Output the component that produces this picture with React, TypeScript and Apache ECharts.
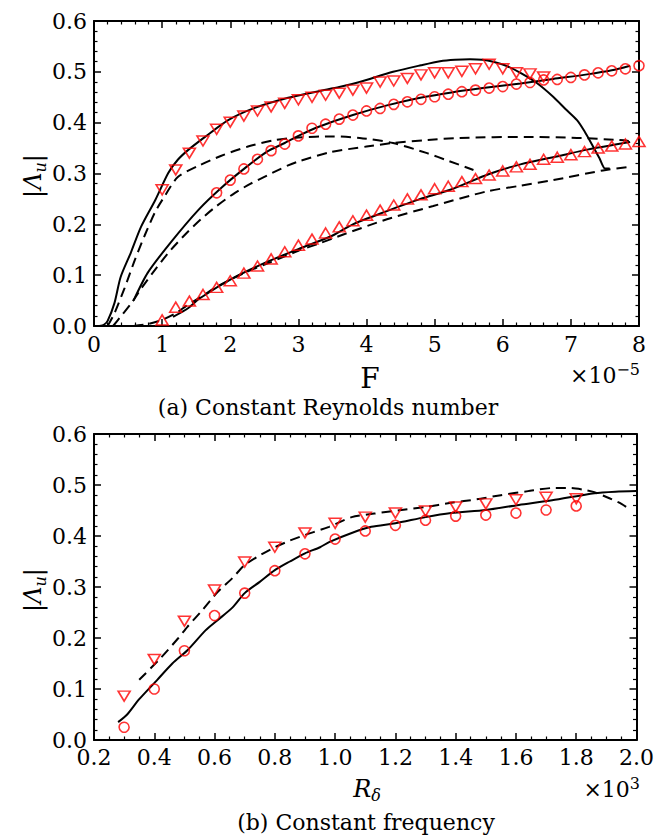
import React, { useEffect, useRef } from "react";
import * as echarts from "echarts";

// ---------- (a) Constant Reynolds number : x = F (×10^-5), y = |Λu| ----------
const A_SOLID_1 = [[0.08,0],[0.15,0.003],[0.2,0.01],[0.3,0.045],[0.39,0.096],[0.54,0.144],[0.69,0.195],[0.9,0.248],[1.09,0.301],[1.23,0.327],[1.38,0.346],[1.63,0.372],[1.97,0.405],[2.36,0.429],[2.85,0.449],[3.3,0.462],[3.6,0.47],[3.9,0.48],[4.39,0.5],[4.8,0.513],[5.08,0.521],[5.3,0.524],[5.52,0.525],[5.7,0.524],[5.86,0.52],[6.05,0.512],[6.26,0.498],[6.5,0.478],[6.74,0.451],[6.92,0.427],[7.09,0.405],[7.2,0.383],[7.33,0.352],[7.42,0.33],[7.5,0.31],[7.57,0.31]];
const A_DASH_1 = [[0.2,0],[0.3,0.025],[0.45,0.075],[0.6,0.13],[0.75,0.18],[0.9,0.225],[1.04,0.256],[1.23,0.293],[1.53,0.315],[1.87,0.335],[2.26,0.353],[2.66,0.366],[3.0,0.371],[3.5,0.373],[3.9,0.37],[4.39,0.36],[4.89,0.34],[5.2,0.325],[5.57,0.307]];
const A_SOLID_2 = [[0.58,0.05],[0.79,0.105],[1.13,0.165],[1.53,0.228],[1.87,0.272],[2.22,0.311],[2.54,0.343],[2.8,0.36],[3.03,0.376],[3.32,0.393],[3.8,0.415],[4.3,0.434],[4.79,0.449],[5.27,0.46],[5.77,0.469],[6.26,0.477],[6.74,0.486],[7.24,0.495],[7.6,0.503],[7.87,0.512]];
const A_DASH_2 = [[0.28,0],[0.4,0.02],[0.55,0.045],[0.7,0.075],[0.92,0.115],[1.13,0.15],[1.36,0.183],[1.57,0.21],[1.78,0.234],[2.07,0.262],[2.3,0.28],[2.54,0.296],[2.85,0.316],[3.03,0.325],[3.47,0.342],[4.0,0.353],[4.39,0.36],[4.9,0.366],[5.37,0.37],[6.36,0.372],[7.09,0.37],[7.68,0.366],[7.85,0.364]];
const A_SOLID_3 = [[1.16,0.018],[1.38,0.035],[1.56,0.055],[2.04,0.094],[2.54,0.126],[3.03,0.153],[3.47,0.176],[3.8,0.2],[4.3,0.226],[4.79,0.25],[5.23,0.268],[5.8,0.299],[6.26,0.318],[6.84,0.335],[7.24,0.347],[7.87,0.362]];
const A_DASH_3 = [[0.58,0],[0.8,0.004],[1.0,0.012],[1.2,0.025],[1.36,0.04],[1.6,0.06],[1.8,0.077],[2.2,0.104],[2.6,0.126],[3.0,0.148],[3.32,0.163],[3.66,0.18],[4.3,0.21],[4.98,0.236],[5.77,0.265],[6.26,0.276],[6.74,0.287],[7.47,0.306],[7.85,0.313]];

const A_F_DOWN = [1.0,1.2,1.4,1.6,1.8,2.0,2.2,2.4,2.6,2.8,3.0,3.2,3.4,3.6,3.8,4.0,4.2,4.4,4.6,4.8,5.0,5.2,5.4,5.6,5.8,6.0,6.2,6.4,6.6];
const A_V_DOWN = [0.268,0.307,0.34,0.364,0.387,0.401,0.413,0.423,0.431,0.438,0.445,0.45,0.454,0.458,0.464,0.468,0.48,0.482,0.487,0.494,0.498,0.498,0.501,0.506,0.515,0.506,0.498,0.496,0.49];
const A_F_CIRC = [1.8,2.0,2.2,2.4,2.6,2.8,3.0,3.2,3.4,3.6,3.8,4.0,4.2,4.4,4.6,4.8,5.0,5.2,5.4,5.6,5.8,6.0,6.2,6.4,6.6,6.8,7.0,7.2,7.4,7.6,7.8,8.0];
const A_V_CIRC = [0.262,0.287,0.309,0.328,0.345,0.358,0.374,0.389,0.397,0.407,0.415,0.423,0.428,0.436,0.441,0.446,0.451,0.456,0.461,0.464,0.468,0.471,0.476,0.479,0.484,0.485,0.489,0.494,0.498,0.502,0.506,0.512];
const A_F_UP = [1.0,1.2,1.4,1.6,1.8,2.0,2.2,2.4,2.6,2.8,3.0,3.2,3.4,3.6,3.8,4.0,4.2,4.4,4.6,4.8,5.0,5.2,5.4,5.6,5.8,6.0,6.2,6.4,6.6,6.8,7.0,7.2,7.4,7.6,7.8,8.0];
const A_V_UP = [0.012,0.037,0.049,0.062,0.076,0.089,0.104,0.118,0.132,0.146,0.159,0.171,0.183,0.195,0.207,0.218,0.228,0.238,0.25,0.258,0.27,0.275,0.284,0.29,0.297,0.305,0.313,0.318,0.328,0.332,0.337,0.343,0.35,0.354,0.358,0.363];

// ---------- (b) Constant frequency : x = Rδ (×10^3), y = |Λu| ----------
const B_SOLID = [[0.28,0.035],[0.31,0.05],[0.35,0.08],[0.41,0.118],[0.46,0.15],[0.51,0.176],[0.57,0.215],[0.61,0.235],[0.66,0.26],[0.7,0.288],[0.75,0.31],[0.8,0.333],[0.85,0.35],[0.9,0.366],[0.95,0.378],[0.98,0.388],[1.055,0.406],[1.12,0.418],[1.2,0.425],[1.3,0.437],[1.385,0.445],[1.5,0.451],[1.61,0.461],[1.72,0.47],[1.86,0.484],[1.93,0.487],[2.0,0.488]];
const B_DASH = [[0.35,0.118],[0.42,0.16],[0.48,0.2],[0.51,0.222],[0.56,0.255],[0.61,0.29],[0.66,0.318],[0.7,0.343],[0.75,0.362],[0.8,0.378],[0.85,0.391],[0.9,0.402],[0.98,0.418],[1.055,0.437],[1.13,0.444],[1.22,0.451],[1.3,0.457],[1.385,0.465],[1.47,0.472],[1.55,0.48],[1.64,0.488],[1.72,0.494],[1.78,0.494],[1.83,0.49],[1.86,0.486],[1.91,0.474],[1.95,0.463],[1.98,0.451]];
const B_R = [0.3,0.4,0.5,0.6,0.7,0.8,0.9,1.0,1.1,1.2,1.3,1.4,1.5,1.6,1.7,1.8];
const B_V_DOWN = [0.086,0.158,0.233,0.294,0.349,0.378,0.406,0.425,0.437,0.445,0.449,0.457,0.463,0.471,0.476,0.473];
const B_V_CIRC = [0.025,0.1,0.175,0.244,0.288,0.332,0.365,0.394,0.41,0.421,0.431,0.439,0.441,0.445,0.451,0.459];

const TOP_X_TICKS = ["0","1","2","3","4","5","6","7","8"];

const SERIF = "'DejaVu Serif', 'Liberation Serif', serif";
const LABEL_FONT = "DejaVu Serif";
const RED = "#ff0000";

const zip = (xs: number[], ys: number[]) => xs.map((x, i) => [x, ys[i]]);

function baseAxis(extra: any) {
  return {
    type: "value",
    axisLine: { show: true, onZero: false, lineStyle: { color: "#000", width: 2 } },
    axisTick: { show: true, inside: true, length: 7, lineStyle: { color: "#000", width: 1.5 } },
    minorTick: { show: true, splitNumber: 5, length: 3.5, lineStyle: { color: "#000", width: 1.2 } },
    splitLine: { show: false },
    minorSplitLine: { show: false },
    ...extra,
  };
}

const labelStyle = { fontFamily: LABEL_FONT, fontSize: 22, color: "#000" };

function lineSeries(data: number[][], dashed: boolean, idx: number) {
  return {
    type: "line",
    data,
    xAxisIndex: idx,
    yAxisIndex: idx,
    showSymbol: false,
    symbol: "none",
    smooth: 0.25,
    lineStyle: { color: "#000", width: 2, type: dashed ? [10, 6] : "solid" },
    z: 2,
  };
}

function markerSeries(data: number[][], kind: "down" | "up" | "circle", idx: number, size: number) {
  return {
    type: "scatter",
    data,
    xAxisIndex: idx,
    yAxisIndex: idx,
    symbol: kind === "circle" ? "circle" : "triangle",
    symbolRotate: kind === "down" ? 180 : 0,
    symbolSize: kind === "circle" ? size : [size + 1, size - 1],
    itemStyle: { color: "rgba(0,0,0,0)", borderColor: RED, borderWidth: 1.6 },
    z: 3,
  };
}

function yTitle(y: number) {
  return {
    type: "text",
    x: 33,
    y,
    rotation: Math.PI / 2,
    style: {
      text: "|{m|Λ}{s|u}|",
      font: `24px ${SERIF}`,
      fill: "#000",
      align: "center",
      verticalAlign: "middle",
      lineHeight: 30,
      rich: {
        m: { fontFamily: LABEL_FONT, fontSize: 24, fontStyle: "italic", lineHeight: 30, fill: "#000" },
        s: { fontFamily: LABEL_FONT, fontSize: 16, fontStyle: "italic", lineHeight: 30, verticalAlign: "bottom", fill: "#000" },
      },
    },
  };
}

export default function App() {
  const ref = useRef<HTMLDivElement>(null);
  useEffect(() => {
    if (!ref.current) return;
    const chart = echarts.init(ref.current, null, { renderer: "svg" });
    const option: any = {
      animation: false,
      backgroundColor: "#fff",
      textStyle: { fontFamily: LABEL_FONT },
      grid: [
        { left: 94, top: 21, width: 545, height: 305 },
        { left: 94, top: 434, width: 545, height: 306 },
      ],
      xAxis: [
        baseAxis({
          gridIndex: 0, position: "bottom", min: 0, max: 8, interval: 1,
          axisLabel: { ...labelStyle, margin: 7, formatter: (v: number) => TOP_X_TICKS[Math.round(v)] ?? "" },
        }),
        baseAxis({ gridIndex: 0, position: "top", min: 0, max: 8, interval: 1, axisLabel: { show: false } }),
        baseAxis({
          gridIndex: 1, position: "bottom", min: 0.2, max: 2.0, interval: 0.2,
          minorTick: { show: true, splitNumber: 4, length: 3.5, lineStyle: { color: "#000", width: 1.2 } },
          axisLabel: { ...labelStyle, margin: 6, formatter: (v: number) => v.toFixed(1) },
        }),
        baseAxis({
          gridIndex: 1, position: "top", min: 0.2, max: 2.0, interval: 0.2,
          minorTick: { show: true, splitNumber: 4, length: 3.5, lineStyle: { color: "#000", width: 1.2 } },
          axisLabel: { show: false },
        }),
      ],
      yAxis: [
        baseAxis({
          gridIndex: 0, position: "left", min: 0, max: 0.6, interval: 0.1,
          axisLabel: { ...labelStyle, margin: 7, formatter: (v: number) => v.toFixed(1) },
        }),
        baseAxis({ gridIndex: 0, position: "right", min: 0, max: 0.6, interval: 0.1, axisLabel: { show: false } }),
        baseAxis({
          gridIndex: 1, position: "left", min: 0, max: 0.6, interval: 0.1,
          axisLabel: { ...labelStyle, margin: 7, formatter: (v: number) => v.toFixed(1) },
        }),
        baseAxis({ gridIndex: 1, position: "right", min: 0, max: 0.6, interval: 0.1, axisLabel: { show: false } }),
      ],
      series: [
        lineSeries(A_SOLID_1, false, 0),
        lineSeries(A_DASH_1, true, 0),
        lineSeries(A_SOLID_2, false, 0),
        lineSeries(A_DASH_2, true, 0),
        lineSeries(A_SOLID_3, false, 0),
        lineSeries(A_DASH_3, true, 0),
        markerSeries(zip(A_F_DOWN, A_V_DOWN), "down", 0, 11),
        markerSeries(zip(A_F_CIRC, A_V_CIRC), "circle", 0, 10),
        markerSeries(zip(A_F_UP, A_V_UP), "up", 0, 11),
        lineSeries(B_SOLID, false, 2),
        lineSeries(B_DASH, true, 2),
        markerSeries(zip(B_R, B_V_DOWN), "down", 2, 11),
        markerSeries(zip(B_R, B_V_CIRC), "circle", 2, 10),
      ],
      graphic: [
        yTitle(176),
        yTitle(590),
        {
          type: "text", x: 370, y: 378,
          style: { text: "F", font: `28px ${SERIF}`, fill: "#000", align: "center", verticalAlign: "middle" },
        },
        {
          type: "text", x: 640, y: 375,
          style: {
            text: "×10{s|−5}", font: `22px ${SERIF}`, fill: "#000", align: "right", verticalAlign: "middle", lineHeight: 28,
            rich: { s: { fontFamily: LABEL_FONT, fontSize: 16, lineHeight: 28, verticalAlign: "top", fill: "#000" } },
          },
        },
        {
          type: "text", x: 328, y: 407,
          style: { text: "(a) Constant Reynolds number", font: `22px ${SERIF}`, fill: "#000", align: "center", verticalAlign: "middle" },
        },
        {
          type: "text", x: 367, y: 789,
          style: {
            text: "{m|R}{s|δ}", font: `24px ${SERIF}`, fill: "#000", align: "center", verticalAlign: "middle", lineHeight: 28,
            rich: {
              m: { fontFamily: LABEL_FONT, fontSize: 24, fontStyle: "italic", lineHeight: 28, fill: "#000" },
              s: { fontFamily: LABEL_FONT, fontSize: 16, fontStyle: "italic", lineHeight: 28, verticalAlign: "bottom", fill: "#000" },
            },
          },
        },
        {
          type: "text", x: 640, y: 789,
          style: {
            text: "×10{s|3}", font: `22px ${SERIF}`, fill: "#000", align: "right", verticalAlign: "middle", lineHeight: 28,
            rich: { s: { fontFamily: LABEL_FONT, fontSize: 16, lineHeight: 28, verticalAlign: "top", fill: "#000" } },
          },
        },
        {
          type: "text", x: 366, y: 822,
          style: { text: "(b) Constant frequency", font: `22px ${SERIF}`, fill: "#000", align: "center", verticalAlign: "middle" },
        },
      ],
    };
    chart.setOption(option);
    return () => chart.dispose();
  }, []);
  return <div ref={ref} style={{ position: "absolute", left: 0, top: 0, width: 657, height: 836 }} />;
}
